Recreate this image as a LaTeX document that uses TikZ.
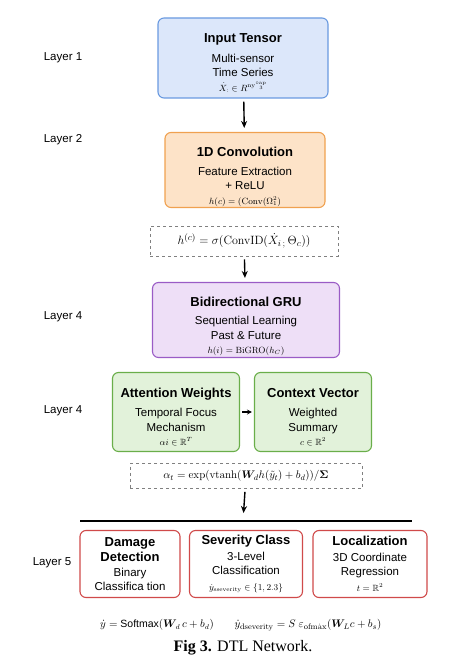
\documentclass[tikz,border=0pt]{standalone}
\usepackage{amsmath,amssymb}
\usepackage[no-math]{fontspec}
\setmainfont{Liberation Sans}
\newfontfamily\capfont{Liberation Serif}
\usetikzlibrary{arrows.meta}

\definecolor{inblue}{HTML}{DCE7FA}
\definecolor{inblueline}{HTML}{6A9AE0}
\definecolor{convor}{HTML}{FDE3C8}
\definecolor{convorline}{HTML}{F0A150}
\definecolor{grupur}{HTML}{EEDFF7}
\definecolor{grupurline}{HTML}{9A5CC6}
\definecolor{attgreen}{HTML}{E2F2DA}
\definecolor{attgreenline}{HTML}{6AAE4A}
\definecolor{outred}{HTML}{D04A4A}

\newcommand{\ttlfont}{\fontsize{13}{16}\selectfont\bfseries}
\newcommand{\eqfont}{\fontsize{9}{11}\selectfont}
\newcommand{\topgap}[1]{\rule{0pt}{#1}}

\begin{document}
\begin{tikzpicture}[
  x=1pt, y=-1pt,
  block/.style={rectangle, rounded corners=6pt, line width=1.1pt, align=center,
    inner sep=0pt, font=\fontsize{11.5}{14.5}\selectfont},
  inblock/.style={block, draw=inblueline, fill=inblue},
  convblock/.style={block, draw=convorline, fill=convor},
  grublock/.style={block, draw=grupurline, fill=grupur},
  attblock/.style={block, draw=attgreenline, fill=attgreen},
  outblock/.style={block, draw=outred, fill=white},
  eqbox/.style={rectangle, draw=black!50, dashed, line width=0.6pt, inner sep=0pt},
  layer/.style={font=\fontsize{11.5}{13}\selectfont},
  flow/.style={-{Stealth[length=7pt, width=6pt]}, line width=1.4pt, shorten <=3pt, shorten >=4pt}
]
  \useasboundingbox (0,0) rectangle (452,660);

  % Layer labels
  \node[layer] (l1) at (63,58) {Layer 1};
  \node[layer] (l2) at (63,140) {Layer 2};
  \node[layer] (l4a) at (63,317) {Layer 4};
  \node[layer] (l4b) at (63,411) {Layer 4};
  \node[layer] (l5) at (52,563) {Layer 5};

  % Input and convolution
  \node[inblock, minimum width=170pt, minimum height=80pt] (inp) at (243,58)
    {\topgap{19pt}{\ttlfont Input Tensor}\\[5pt] Multi-sensor\\ Time Series\\
     {\eqfont$\dot{X}_{:}\in R^{\mathrm{ny}^{\circ\mathrm{ap}}_{\;\;3}}$}};
  \node[convblock, minimum width=160pt, minimum height=75pt] (conv) at (245,170)
    {\topgap{23pt}{\ttlfont 1D Convolution}\\[4pt] Feature Extraction\\ + ReLU\\
     {\eqfont$h(c)=(\mathrm{Conv}(\Omega_1^2)$}};
  \node[eqbox, minimum width=188pt, minimum height=30pt, font=\fontsize{12.5}{14}\selectfont] (eqc) at (244,241)
    {$h^{(c)}=\sigma(\mathrm{ConvID}(\dot{X}_{i\,;}\,\Theta_c))$};

  % Recurrent part
  \node[grublock, minimum width=187pt, minimum height=75pt] (gru) at (246,320)
    {\topgap{22pt}{\ttlfont Bidirectional GRU}\\[4pt] Sequential Learning\\ Past \& Future\\
     {\eqfont$h(i)=\mathrm{BiGRO}(h_C)$}};

  % Attention
  \node[attblock, minimum width=127pt, minimum height=79pt] (att) at (176,412)
    {\topgap{19pt}{\ttlfont Attention Weights}\\[5pt] Temporal Focus\\ Mechanism\\
     {\eqfont$\alpha i\in\mathbb{R}^T$}};
  \node[attblock, minimum width=117pt, minimum height=79pt] (ctx) at (313,412)
    {\topgap{19pt}{\ttlfont Context Vector}\\[5pt] Weighted\\ Summary\\
     {\eqfont$c\in\mathbb{R}^2$}};
  \node[eqbox, minimum width=232pt, minimum height=25pt, font=\fontsize{11}{12}\selectfont] (eqa) at (246,476)
    {$\alpha_t=\exp(\mathrm{vtanh}(\boldsymbol{W}_{\!d}h(\tilde{y}_t)+b_d))/\boldsymbol{\Sigma}$};

  % Output heads
  \coordinate (barl) at (80,521);
  \coordinate (barr) at (412,521);
  \coordinate (barm) at (243,521);
  \draw[line width=1.1pt] (barl) -- (barr);
  \node[outblock, minimum width=100pt, minimum height=67pt] (dmg) at (130,564)
    {{\ttlfont Damage}\\[1pt] {\ttlfont Detection}\\ Binary\\ Classifica tion};
  \node[outblock, minimum width=113pt, minimum height=67pt] (sev) at (246,564)
    {{\ttlfont Severity Class}\\[1pt] 3-Level\\ Classification\\[1.5pt]
     {\eqfont$\dot{y}_{\mathrm{sseverity}}\in\{1,2.3\}$}};
  \node[outblock, minimum width=114pt, minimum height=67pt] (loc) at (370,564)
    {{\ttlfont Localization}\\[1pt] 3D Coordinate\\ Regression\\[1.5pt]
     {\eqfont$t=\mathbb{R}^2$}};

  % Output equations
  \node[font=\fontsize{10.5}{12}\selectfont, inner sep=1pt] (eqy) at (157,625)
    {$\dot{y}=$ Softmax$(\boldsymbol{W}_{\!d}\,c+b_d)$};
  \node[font=\fontsize{11}{12}\selectfont, inner sep=1pt] (eqs) at (308,625)
    {$\dot{y}_{\scriptstyle\mathrm{dseverity}}=S\;\varepsilon_{\mathrm{ofm\dot{a}x}}(\boldsymbol{W}_{\!L}c+b_s)$};

  % Caption
  \node[font=\capfont\fontsize{16}{18}\selectfont] (cap) at (243,648)
    {\textbf{Fig 3.} DTL Network.};

  % Flow
  \draw[flow] (inp) -- (conv);
  \draw[flow] (eqc) -- (gru);
  \draw[flow, line width=1.1pt, -{Stealth[length=5pt, width=5pt]}, shorten <=2pt, shorten >=2pt] (att) -- (ctx);
  \draw[flow, shorten >=8pt] (eqa) -- (barm);
\end{tikzpicture}
\end{document}
